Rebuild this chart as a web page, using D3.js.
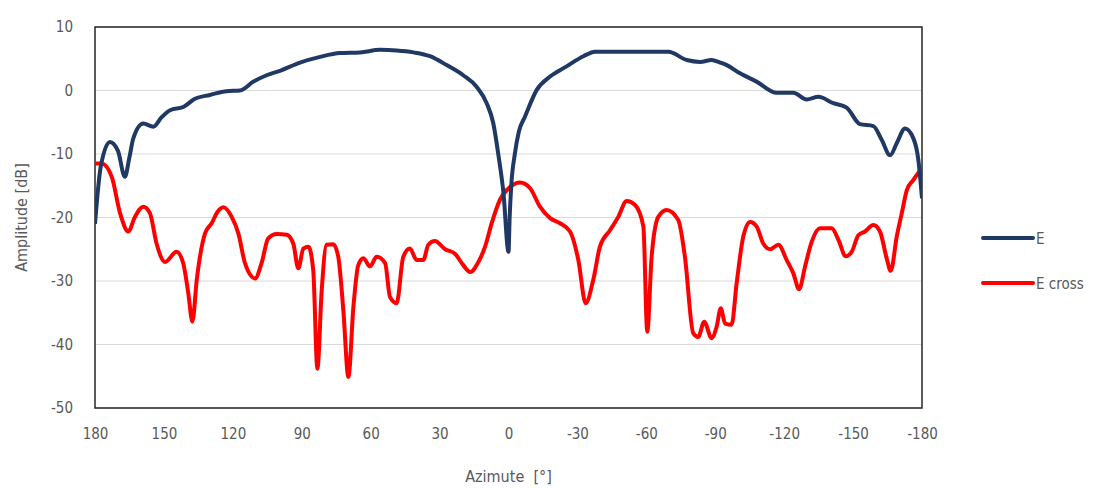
<!DOCTYPE html>
<html><head><meta charset="utf-8">
<script src="https://cdn.jsdelivr.net/npm/d3@7"></script>
<style>
html,body{margin:0;padding:0;background:#fff;}
text{font-family:"Liberation Sans Narrow","DejaVu Sans Condensed","Open Sans",sans-serif;}
</style></head>
<body><svg id="c" width="1110" height="488"></svg>
<script>
const xTicks = [180,150,120,90,60,30,0,-30,-60,-90,-120,-150,-180];
const yTicks = [10,0,-10,-20,-30,-40,-50];
const seriesNames = ["E","E cross"];
const seriesColors = ["#203864","#ff0000"];

const eAz = [180,177.5,173.5,170,167,165,163.3,159,154.6,151,147.3,141.6,136.5,130,122.7,116.9,111,105.3,99.5,90.8,82,73.3,64.6,55.9,48.7,41.4,34.2,26.9,19.7,13.9,9.5,6.6,4.5,2.2,0,-0.5,-1.2,-2.8,-4.5,-7.2,-12.3,-18.1,-25.3,-32.6,-37.7,-54.3,-69.6,-77.6,-83.4,-88.4,-92.1,-95,-100.8,-108,-116.7,-124,-129.8,-134.9,-141.4,-147.2,-153,-158.8,-162.5,-166.1,-169,-172.6,-176.2,-178.4,-180];
const eVal = [-21,-12,-8.1,-9.5,-13.6,-10.5,-7.5,-5.2,-5.7,-4.2,-3.1,-2.6,-1.3,-0.7,-0.1,0,1.4,2.4,3.1,4.4,5.3,5.9,6.0,6.4,6.3,6.0,5.4,4.0,2.4,0.6,-2.0,-5.2,-9.9,-16.1,-25.4,-20,-15,-9.9,-6.5,-4.1,0.1,2.2,3.8,5.4,6.1,6.1,6.1,4.8,4.5,4.8,4.4,4.0,2.7,1.4,-0.35,-0.35,-1.4,-1.0,-2.0,-2.7,-5.3,-5.6,-7.8,-10.2,-8.3,-6.0,-7.5,-10.9,-17];

const cAz = [180,177.1,172.7,169.1,165.5,162.6,159,156.1,153.2,149.5,144.5,141.6,139.4,137.6,135.7,132.1,129.2,127,124.1,120.5,117.6,114.7,110.3,107.5,104.6,100.9,96.6,93.7,91.5,89.3,87.1,85,83.2,81.3,79.2,76.3,74.1,71.9,69.7,67.5,65.4,63.2,60.3,57.4,53.7,51.6,48.7,45.8,42.9,40,37.1,34.9,32,27.6,23.3,19.7,16.7,13.1,10.2,7.3,3.7,-0.7,-5,-9.4,-13.7,-18.1,-22.4,-26.8,-30.4,-33.6,-36.9,-39.8,-44.2,-47.8,-51.4,-55,-58.7,-60.4,-62.3,-65.2,-68.8,-73.9,-76.8,-80.4,-82.6,-85.2,-88.4,-90.6,-92.4,-94.3,-97.1,-99.3,-102.2,-105.2,-108,-110.9,-113.9,-117.5,-121.1,-124,-126.5,-129.1,-132,-135.6,-140.7,-143.6,-146.8,-149.4,-152.3,-155.2,-158.8,-161.7,-164.6,-166.4,-169,-171.2,-173.4,-176.2,-180];
const cVal = [-11.5,-11.5,-13.6,-19.3,-22.2,-19.9,-18.3,-19.3,-24.1,-27.0,-25.4,-27.2,-31.9,-36.4,-29.8,-22.5,-20.9,-19.3,-18.4,-19.9,-22.5,-27.2,-29.6,-27.2,-23.3,-22.6,-22.7,-24.1,-28.0,-24.9,-24.6,-28.3,-43.8,-31.4,-24.3,-24.2,-26.2,-34.6,-45.1,-34.0,-27.5,-26.4,-27.7,-26.2,-27.2,-32.5,-33.5,-26.2,-24.9,-26.7,-26.7,-24.3,-23.7,-25.0,-25.7,-27.5,-28.6,-27.0,-24.6,-20.9,-17.2,-15.2,-14.5,-15.4,-18.3,-20.1,-20.9,-22.2,-26.7,-33.5,-29.8,-24.6,-22.0,-19.9,-17.4,-18.0,-21.4,-38.0,-26.2,-19.9,-18.8,-20.4,-26.2,-38.2,-38.8,-36.4,-39.0,-37.2,-34.3,-36.7,-36.9,-30.4,-23.0,-20.7,-21.4,-24.1,-25.0,-24.3,-26.7,-28.8,-31.3,-27.7,-23.8,-21.7,-21.7,-23.5,-26.1,-25.4,-22.8,-22.2,-21.2,-22.2,-26.4,-28.4,-23.0,-19.3,-15.7,-14.1,-12.2];

const svg = d3.select("#c");
const L = 95, R = 922, T = 27, B = 408;
const x = d3.scaleLinear().domain([180,-180]).range([L,R]);
const y = d3.scaleLinear().domain([-50,10]).range([B,T]);
const tickColor = "#595959";
const fmt = d => String(d);

// grid
svg.append("g").selectAll("line").data(yTicks).join("line")
  .attr("x1",L).attr("x2",R).attr("y1",d=>y(d)).attr("y2",d=>y(d))
  .attr("stroke","#d9d9d9").attr("stroke-width",1.2);

// y axis labels
const yAxis = d3.axisLeft(y).tickValues(yTicks).tickSize(0).tickPadding(22).tickFormat(fmt);
const gy = svg.append("g").attr("transform",`translate(${L},0)`).call(yAxis);
gy.select(".domain").remove();
gy.selectAll("text").attr("fill",tickColor).style("font-size","15px")
  .style("font-family",'"Liberation Sans Narrow","DejaVu Sans Condensed",sans-serif');

// x axis labels
const xAxis = d3.axisBottom(x).tickValues(xTicks).tickSize(0).tickPadding(20).tickFormat(fmt);
const gx = svg.append("g").attr("transform",`translate(0,${B})`).call(xAxis);
gx.select(".domain").remove();
gx.selectAll("text").attr("fill",tickColor).style("font-size","15px")
  .style("font-family",'"Liberation Sans Narrow","DejaVu Sans Condensed",sans-serif');

// plot border
svg.append("rect").attr("x",L).attr("y",T).attr("width",R-L).attr("height",B-T)
  .attr("fill","none").attr("stroke","#262626").attr("stroke-width",1.5);

const line = d3.line().x(d=>x(d[0])).y(d=>y(d[1])).curve(d3.curveMonotoneX);
const eData = eAz.map((a,i)=>[a,eVal[i]]);
const cData = cAz.map((a,i)=>[a,cVal[i]]);
svg.append("defs").append("clipPath").attr("id","pc")
  .append("rect").attr("x",L).attr("y",T-5).attr("width",R-L).attr("height",B-T+10);

svg.append("path").datum(cData).attr("d",line).attr("fill","none")
  .attr("stroke",seriesColors[1]).attr("stroke-width",4).attr("stroke-linejoin","round")
  .attr("clip-path","url(#pc)");
svg.append("path").datum(eData).attr("d",line).attr("fill","none")
  .attr("stroke",seriesColors[0]).attr("stroke-width",4).attr("stroke-linejoin","round")
  .attr("clip-path","url(#pc)");

// axis titles
svg.append("text").attr("x",(L+R)/2).attr("y",482).attr("text-anchor","middle")
  .attr("fill",tickColor).style("font-size","16px").style("white-space","pre").text("Azimute  [°]");
svg.append("text").attr("transform",`translate(27,${(T+B)/2}) rotate(-90)`)
  .attr("text-anchor","middle").attr("fill",tickColor).style("font-size","16px").text("Amplitude [dB]");

// legend
const lg = svg.append("g");
seriesNames.forEach((n,i)=>{
  const yy = 238 + i*45;
  lg.append("line").attr("x1",983).attr("x2",1033).attr("y1",yy).attr("y2",yy)
    .attr("stroke",seriesColors[i]).attr("stroke-width",4).attr("stroke-linecap","round");
  lg.append("text").attr("x",1036).attr("y",yy+5.5).attr("fill",tickColor)
    .style("font-size","15px").text(n);
});
</script></body></html>
